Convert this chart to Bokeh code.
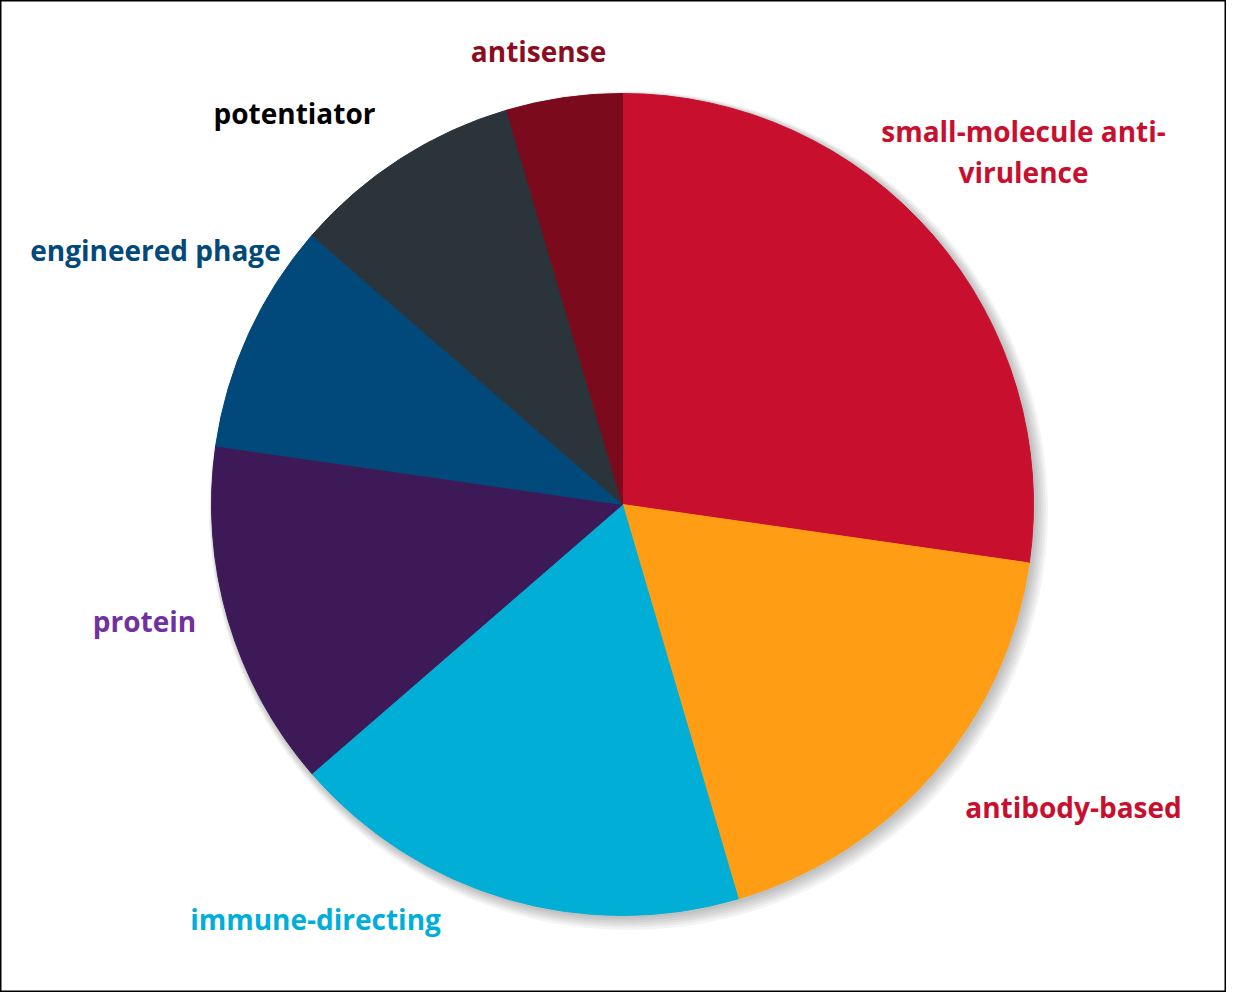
import numpy as np
from bokeh.plotting import figure
from bokeh.models import ColumnDataSource, Range1d
from bokeh.core.properties import value
from bokeh.embed import file_html
from bokeh.resources import INLINE

# ---- data ----
categories = ["small-molecule anti-virulence", "antibody-based", "immune-directing",
              "protein", "engineered phage", "potentiator", "antisense"]
counts = [12, 8, 8, 6, 4, 4, 2]
slice_colors = ["#C8102E", "#FF9E15", "#00AED6", "#3D1A57", "#00497A", "#2B333B", "#7A0A1C"]
label_colors = ["#C8102E", "#C8102E", "#00AEDA", "#7030A0", "#00497A", "#000000", "#8B0D20"]
label_text = ["small-molecule anti-\nvirulence", "antibody-based", "immune-directing",
              "protein", "engineered phage", "potentiator", "antisense"]

# ---- layout (figure pixel coordinates; y measured downward) ----
CX, CY, R = 622, 504, 411
label_pos_px = [(1023, 151), (1073, 806), (315, 918), (144, 620),
                (155, 249), (294, 112), (538, 50)]

FW, FH = 1226, 992
TOP = 1008

def ydata(py):
    return TOP - py

frac = np.array(counts, dtype=float) / sum(counts)
cum = np.concatenate([[0.0], np.cumsum(frac)])
start = np.pi / 2 - cum[:-1] * 2 * np.pi
end = np.pi / 2 - cum[1:] * 2 * np.pi

src = ColumnDataSource(dict(start=start, end=end, color=slice_colors, cat=categories))

p = figure(width=FW, height=FH, output_backend="svg", toolbar_location=None,
           x_range=Range1d(0, FW), y_range=Range1d(TOP - FH, TOP),
           min_border=0)
p.axis.visible = False
p.grid.visible = False
p.outline_line_color = "#000000"
p.outline_line_width = 2
p.background_fill_color = "white"

# soft shadow
for i in range(6):
    p.circle(x=CX + 2 + i * 0.8, y=ydata(CY) - 2 - i * 0.8, radius=R + 1 + i * 1.5,
             fill_color="#000000", fill_alpha=0.045, line_color=None)

p.wedge(x=CX, y=ydata(CY), radius=R, start_angle="start", end_angle="end",
        direction="clock", fill_color="color", line_color="color", line_width=1,
        source=src)

lsrc = ColumnDataSource(dict(
    x=[q[0] for q in label_pos_px],
    y=[ydata(q[1]) for q in label_pos_px],
    text=label_text, color=label_colors))
p.text(x="x", y="y", text="text", text_color="color", source=lsrc,
       text_align="center", text_baseline="middle",
       text_font=value("Open Sans"), text_font_style="bold",
       text_font_size="28px", text_line_height=1.1)

open("out.html", "w").write(file_html(p, INLINE))
